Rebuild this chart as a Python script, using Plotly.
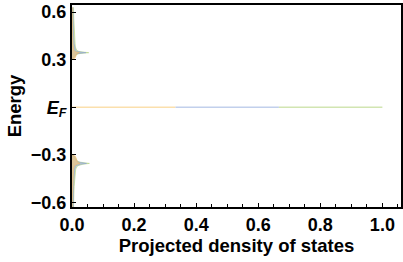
import plotly.graph_objects as go

# Upper band (energy above E_F)
energy_up = [0.300, 0.310, 0.320, 0.330, 0.337, 0.341, 0.344, 0.347, 0.352, 0.360, 0.380, 0.400, 0.450, 0.500, 0.550, 0.600, 0.630]
green_up  = [0.000, 0.007, 0.010, 0.013, 0.020, 0.036, 0.054, 0.040, 0.022, 0.015, 0.011, 0.010, 0.008, 0.007, 0.006, 0.005, 0.005]
blue_up   = [0.000, 0.006, 0.009, 0.011, 0.016, 0.030, 0.045, 0.032, 0.016, 0.011, 0.008, 0.007, 0.005, 0.004, 0.004, 0.003, 0.003]
orange_up = [0.000, 0.010, 0.012, 0.013, 0.015, 0.020, 0.024, 0.017, 0.009, 0.006, 0.004, 0.003, 0.002, 0.002, 0.0015, 0.001, 0.001]

# Lower band (energy below E_F)
energy_dn = [-0.300, -0.310, -0.320, -0.330, -0.340, -0.347, -0.351, -0.355, -0.360, -0.370, -0.390, -0.420, -0.460, -0.500, -0.550, -0.600, -0.630]
green_dn  = [0.000, 0.008, 0.011, 0.013, 0.017, 0.026, 0.040, 0.056, 0.035, 0.018, 0.012, 0.010, 0.008, 0.007, 0.006, 0.005, 0.005]
blue_dn   = [0.000, 0.007, 0.009, 0.011, 0.014, 0.022, 0.034, 0.047, 0.028, 0.013, 0.009, 0.007, 0.006, 0.005, 0.004, 0.004, 0.004]
orange_dn = [0.000, 0.011, 0.013, 0.014, 0.015, 0.018, 0.022, 0.026, 0.016, 0.008, 0.005, 0.004, 0.003, 0.002, 0.002, 0.001, 0.001]

# Fermi level marker segments
fermi_x = [0.0, 1/3, 2/3, 1.0]
fermi_e = 0.0

x_ticks = [0.0, 0.2, 0.4, 0.6, 0.8, 1.0]
x_tick_labels = ["0.0", "0.2", "0.4", "0.6", "0.8", "1.0"]
y_ticks = [0.6, 0.3, 0.0, -0.3, -0.6]
y_tick_labels = ["0.6", "0.3", "<i>E</i><sub><i>F</i></sub>", "\u22120.3", "\u22120.6"]

fill_cols = {"green": "rgba(185,215,130,0.5)", "blue": "rgba(150,172,218,0.55)", "orange": "rgba(245,195,120,0.6)"}
line_cols = {"green": "rgba(175,208,120,0.7)", "blue": "rgba(140,162,210,0.7)", "orange": "rgba(238,185,105,0.7)"}

fig = go.Figure()
for name, xs_up, xs_dn in [("green", green_up, green_dn), ("blue", blue_up, blue_dn), ("orange", orange_up, orange_dn)]:
    for xs, es in [(xs_up, energy_up), (xs_dn, energy_dn)]:
        fig.add_trace(go.Scatter(x=xs, y=es, mode="lines", fill="tozerox",
                                 fillcolor=fill_cols[name],
                                 line=dict(color=line_cols[name], width=0.8),
                                 showlegend=False, hoverinfo="skip"))

seg_cols = ["#fbe0ad", "#c2d0ec", "#d2e5b2"]
for i in range(3):
    fig.add_trace(go.Scatter(x=[fermi_x[i], fermi_x[i + 1]], y=[fermi_e, fermi_e], mode="lines",
                             line=dict(color=seg_cols[i], width=1.6), showlegend=False, hoverinfo="skip"))

tick_font = dict(family="Liberation Sans, Arial, sans-serif", size=18, color="black")
title_font = dict(family="Liberation Sans, Arial, sans-serif", size=18.5, color="black")
fig.update_layout(
    width=403, height=262,
    margin=dict(l=72, r=2, t=5, b=55),
    paper_bgcolor="white", plot_bgcolor="white",
    font=tick_font,
    xaxis=dict(range=[0, 1.06], tickvals=x_ticks, ticktext=[f"<b>{t}</b>" for t in x_tick_labels],
               ticks="inside", ticklen=4, tickwidth=1, tickcolor="black",
               minor=dict(dtick=0.05, tick0=0, ticks="inside", ticklen=3, tickcolor="black"),
               showgrid=False, zeroline=False, showline=True, linecolor="black", linewidth=2, mirror=True,
               automargin=False,
               title=dict(text="<b>Projected density of states</b>", standoff=5, font=title_font),
               tickfont=tick_font),
    yaxis=dict(range=[-0.63, 0.645], tickvals=y_ticks, ticktext=[f"<b>{t}</b>" for t in y_tick_labels],
               ticks="inside", ticklen=4, tickwidth=1, tickcolor="black",
               showgrid=False, zeroline=False, showline=True, linecolor="black", linewidth=2, mirror=True,
               automargin=False,
               title=dict(text="<b>Energy</b>", standoff=4, font=title_font),
               tickfont=tick_font),
)
fig.write_html("out.html", config={"displayModeBar": False},
               post_script="document.body.style.margin='0';document.body.style.overflow='hidden';")
